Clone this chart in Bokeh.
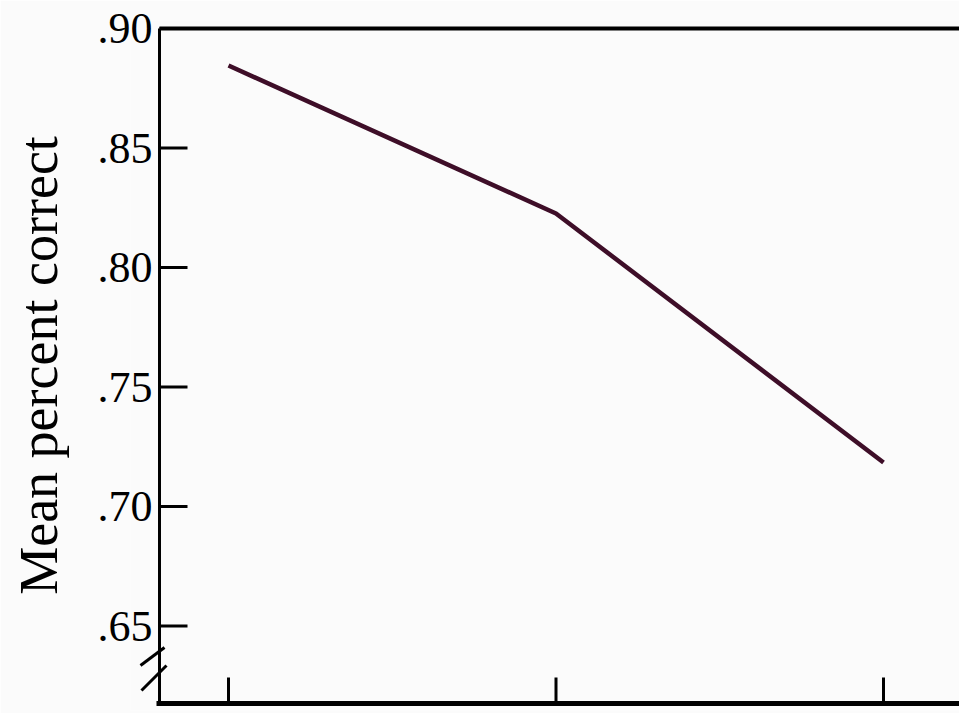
from bokeh.plotting import figure
from bokeh.models import FixedTicker, Range1d
from bokeh.embed import file_html
from bokeh.resources import INLINE

# data
conditions = [1, 2, 3]
mean_correct = [0.8845, 0.8226, 0.7184]
y_ticks = [0.65, 0.70, 0.75, 0.80, 0.85, 0.90]
y_tick_labels = [".65", ".70", ".75", ".80", ".85", ".90"]

SERIF = "Liberation Serif"
BG = "#fbfbfb"
INK = "black"

# pixel -> data scale factors (frame: 829 x 690 px)
PX_X = 1 / 327.5          # data units of x per pixel
PX_Y = 0.05 / 119.5       # data units of y per pixel
X_START = 1 - 98 * PX_X
X_END = 1 + 731 * PX_X
Y_TOP = 0.90
Y_START = Y_TOP - 682 * PX_Y
Y_END = Y_TOP + 8 * PX_Y

AX_X = 1 - 69 * PX_X                 # where the vertical axis sits
Y_BOT = Y_TOP - 675 * PX_Y           # where the horizontal axis sits

p = figure(width=959, height=713, output_backend="svg", toolbar_location=None,
           x_range=Range1d(X_START, X_END), y_range=Range1d(Y_START, Y_END),
           min_border_left=130, min_border_top=20, min_border_bottom=3, min_border_right=0)
p.background_fill_color = BG
p.border_fill_color = BG
p.outline_line_color = None
p.grid.visible = False
p.xaxis.visible = False

# y axis: labels only (lines drawn below)
ya = p.yaxis[0]
ya.ticker = FixedTicker(ticks=y_ticks)
ya.major_label_overrides = {t: l for t, l in zip(y_ticks, y_tick_labels)}
ya.major_tick_in = 0
ya.major_tick_out = 0
ya.minor_tick_in = 0
ya.minor_tick_out = 0
ya.major_tick_line_color = None
ya.minor_tick_line_color = None
ya.axis_line_color = None
ya.major_label_text_font = SERIF
ya.major_label_text_font_size = "44px"
ya.major_label_text_color = INK
ya.major_label_standoff = -22
ya.axis_label = "Mean percent correct"
ya.axis_label_text_font = SERIF
ya.axis_label_text_font_size = "54px"
ya.axis_label_text_font_style = "normal"
ya.axis_label_text_color = INK
ya.axis_label_standoff = 26

# frame lines: left axis, top line, bottom axis
p.segment(x0=[AX_X], y0=[Y_BOT], x1=[AX_X], y1=[Y_TOP], line_color=INK, line_width=3)
p.segment(x0=[AX_X], y0=[Y_TOP], x1=[X_END], y1=[Y_TOP], line_color=INK, line_width=4)
p.segment(x0=[AX_X - 3 * PX_X], y0=[Y_BOT], x1=[X_END], y1=[Y_BOT], line_color=INK, line_width=5)

# y ticks (pointing inward)
p.segment(x0=[AX_X] * len(y_ticks), y0=y_ticks, x1=[AX_X + 28 * PX_X] * len(y_ticks), y1=y_ticks,
          line_color=INK, line_width=3)
# x ticks (pointing up from the bottom axis)
p.segment(x0=conditions, y0=[Y_BOT] * len(conditions), x1=conditions,
          y1=[Y_BOT + 26 * PX_Y] * len(conditions), line_color=INK, line_width=3)

# axis break marks
p.segment(x0=[AX_X - 19 * PX_X, AX_X - 18 * PX_X], y0=[Y_BOT + 38 * PX_Y, Y_BOT + 13 * PX_Y],
          x1=[AX_X + 5 * PX_X, AX_X + 7 * PX_X], y1=[Y_BOT + 56 * PX_Y, Y_BOT + 38 * PX_Y],
          line_color=INK, line_width=3)

# data line
p.line(conditions, mean_correct, line_color="#3e0e28", line_width=4.5)

open("out.html", "w").write(file_html(p, INLINE))
